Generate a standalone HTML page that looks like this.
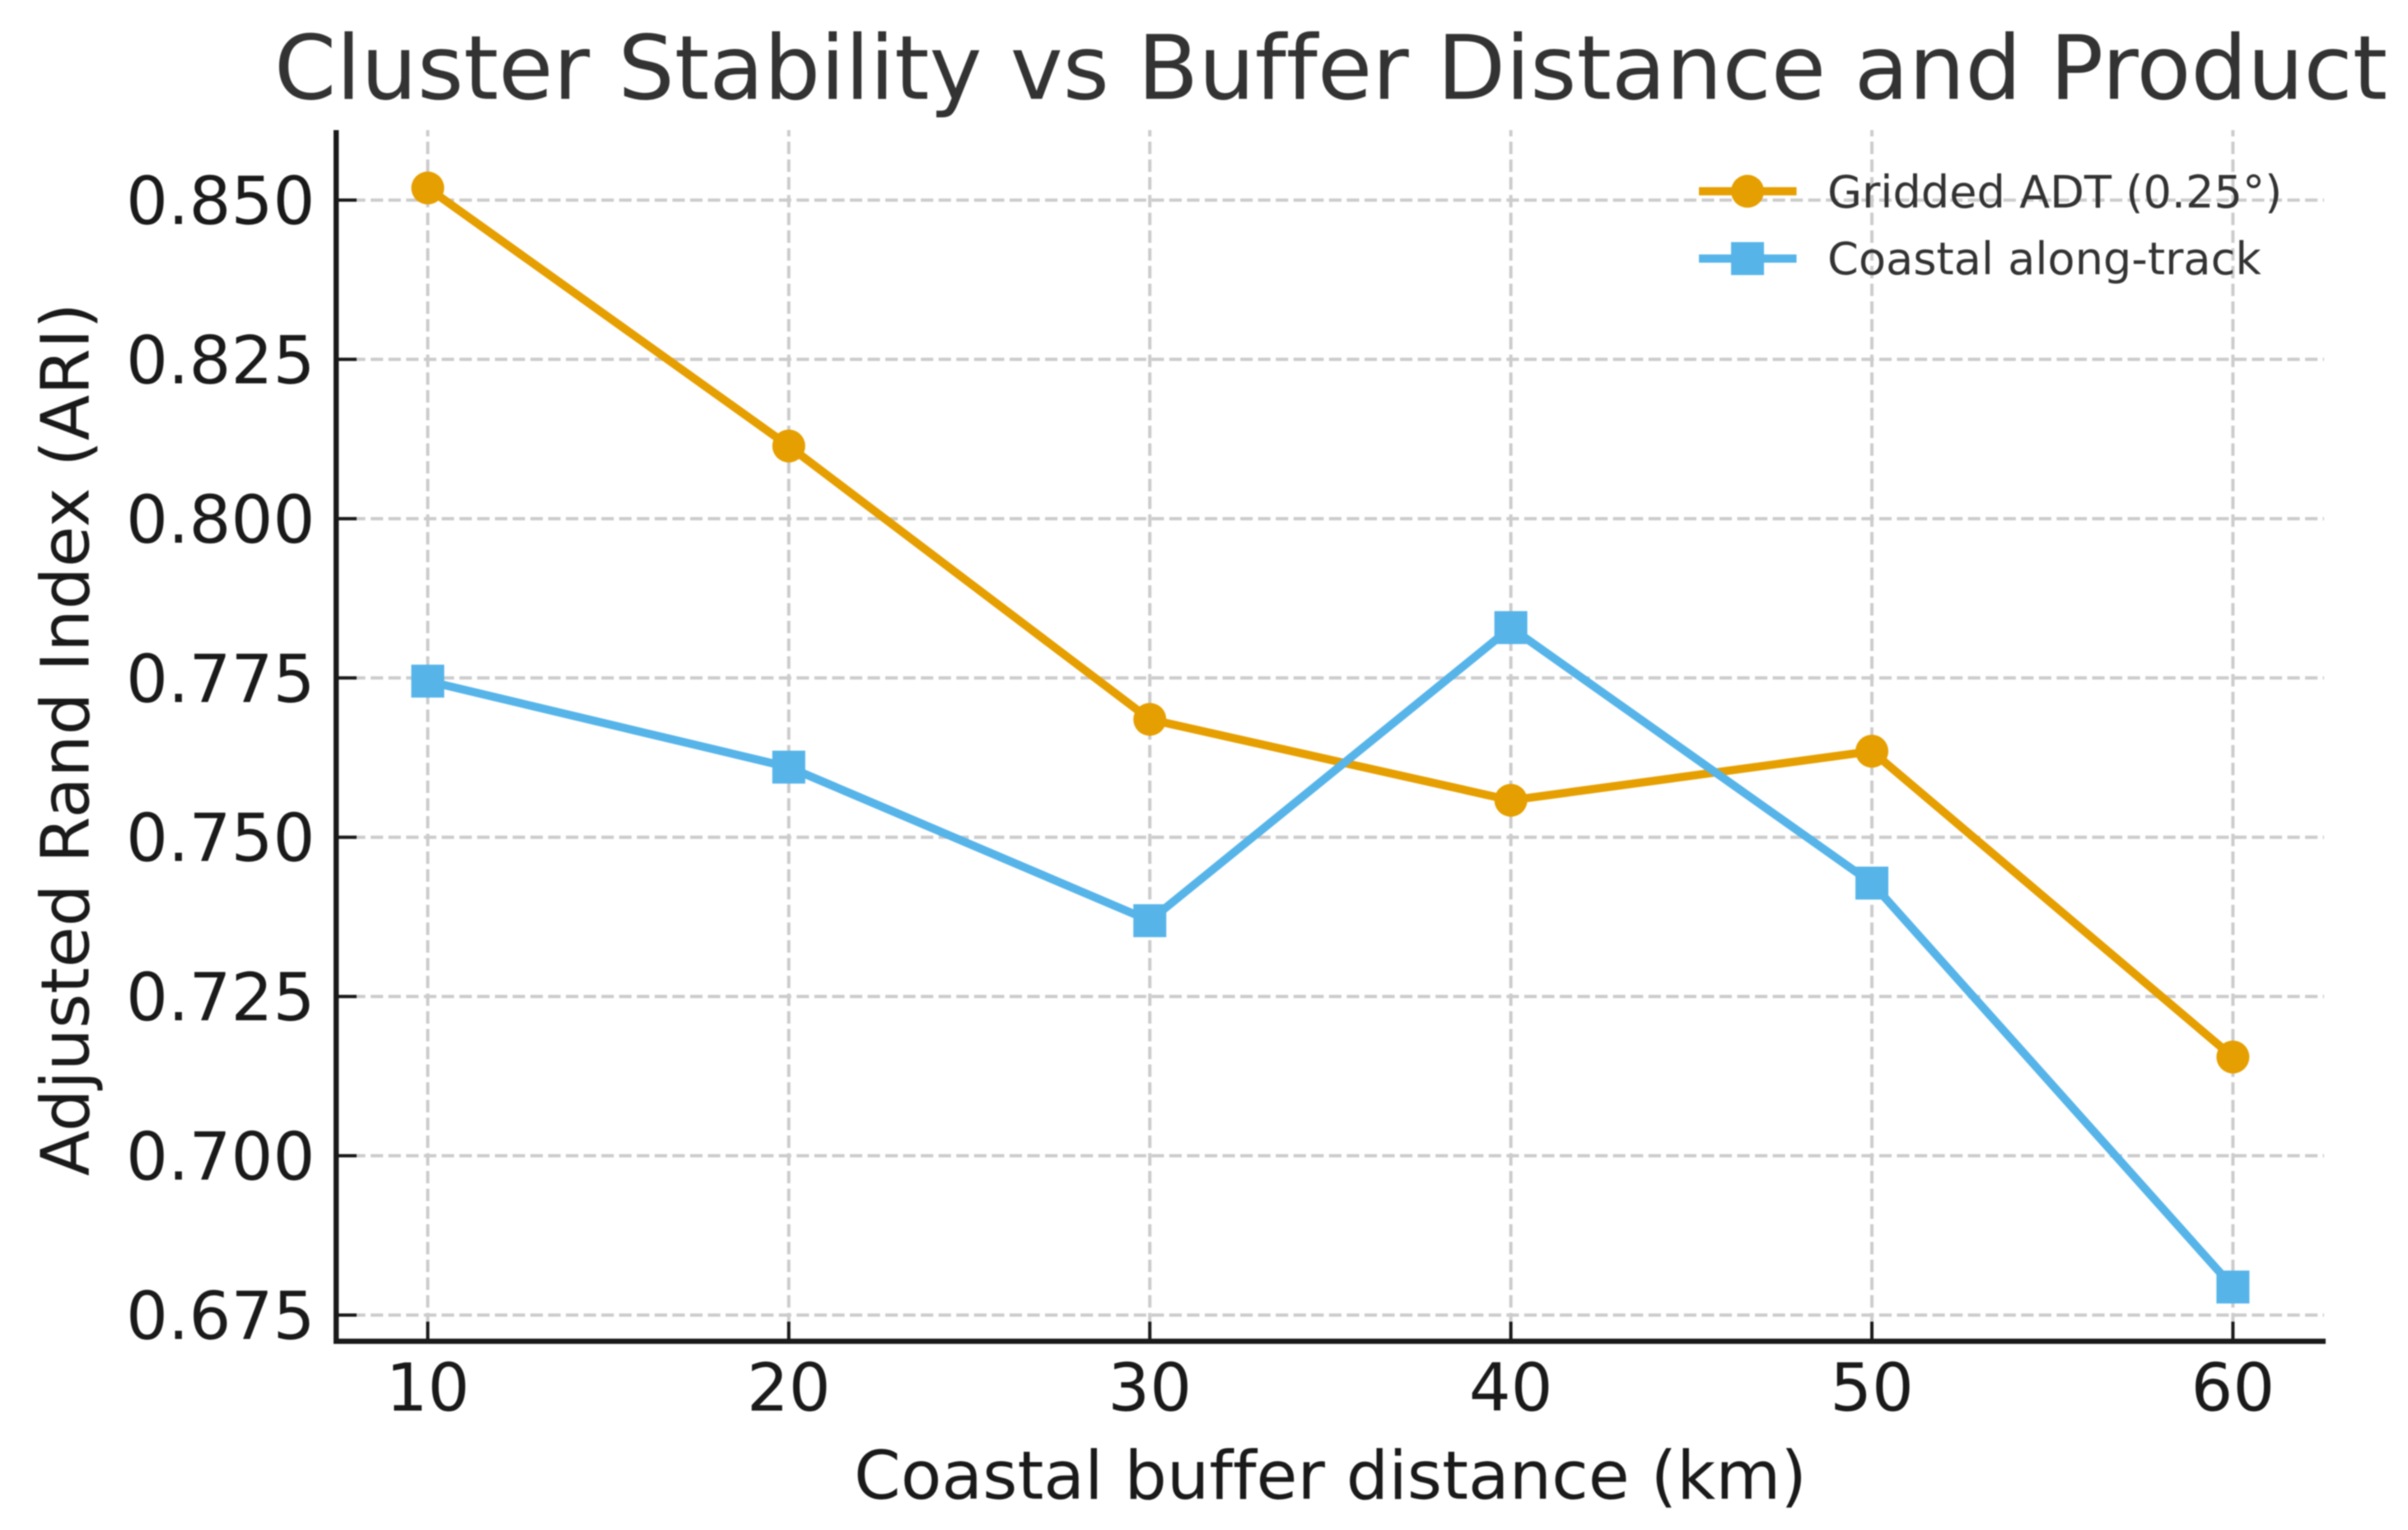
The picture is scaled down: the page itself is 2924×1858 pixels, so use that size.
<!DOCTYPE html>
<html>
<head>
<meta charset="utf-8">
<title>Cluster Stability vs Buffer Distance and Product</title>
<style>
html,body{margin:0;padding:0;background:#fff;}
svg{display:block;filter:blur(0.8px);}
text{font-family:"DejaVu Sans","Liberation Sans",sans-serif;font-variant-ligatures:none;}
</style>
</head>
<body>
<svg id="chart" xmlns="http://www.w3.org/2000/svg" width="2924" height="1858" viewBox="0 0 2924 1858">
  <rect x="0" y="0" width="2924" height="1858" fill="#ffffff"/>
  <text x="1616" y="120" font-size="108" fill="#333333" text-anchor="middle">Cluster Stability vs Buffer Distance and Product</text>
  <g id="grid"></g>
  <g id="series"></g>
  <g id="ticks"></g>
  <line x1="408.2" y1="158" x2="408.2" y2="1632" stroke="#1a1a1a" stroke-width="6.4"/>
  <line x1="405" y1="1628.8" x2="2824" y2="1628.8" stroke="#1a1a1a" stroke-width="6.4"/>
  <text x="1615.5" y="1820" font-size="81.2" fill="#1a1a1a" text-anchor="middle">Coastal buffer distance (km)</text>
  <text x="0" y="0" transform="translate(107.7 898) rotate(-90)" font-size="81" fill="#1a1a1a" text-anchor="middle">Adjusted Rand Index (ARI)</text>
  <g>
    <g>
      <line x1="2063" y1="232.3" x2="2181.5" y2="232.3" stroke="#E69F00" stroke-width="10"/>
      <circle cx="2122" cy="232.3" r="20" fill="#E69F00"/>
      <text x="2219" y="252" font-size="54.2" fill="#333333">Gridded ADT (0.25°)</text>
    </g>
    <g>
      <line x1="2063" y1="314" x2="2181.5" y2="314" stroke="#56B4E9" stroke-width="10"/>
      <rect x="2102" y="294" width="40" height="40" fill="#56B4E9"/>
      <text x="2219" y="333" font-size="54.2" fill="#333333">Coastal along-track</text>
    </g>
  </g>
</svg>
<script>
const bufferKm = [10, 20, 30, 40, 50, 60];
const griddedAdt = [0.8519, 0.8114, 0.7685, 0.7558, 0.7635, 0.7155];
const coastalAlongTrack = [0.7745, 0.7610, 0.7369, 0.7829, 0.7428, 0.6794];
const xTickLabels = ["10", "20", "30", "40", "50", "60"];
const yTickLabels = ["0.850", "0.825", "0.800", "0.775", "0.750", "0.725", "0.700", "0.675"];

const NS = "http://www.w3.org/2000/svg";
function xScale(v) { return 519.4 + (v - 10) * 43.84; }
function yScale(v) { return 243 + (0.85 - v) * 7737; }
function make(tag, attrs, parent) {
  const el = document.createElementNS(NS, tag);
  for (const k in attrs) el.setAttribute(k, attrs[k]);
  parent.appendChild(el);
  return el;
}
const gridG = document.getElementById("grid");
const seriesG = document.getElementById("series");
const ticksG = document.getElementById("ticks");
const svgRoot = document.getElementById("chart");

xTickLabels.forEach(function (label) {
  const v = Number(label);
  const x = xScale(v);
  const g = make("line", {x1: x, y1: 1631, x2: x, y2: 158, stroke: "#cccccc", "stroke-width": 4, "stroke-dasharray": "15.1 6.45"}, gridG);
  
  
  const t = make("line", {x1: x, y1: 1626, x2: x, y2: 1605, stroke: "#1a1a1a", "stroke-width": 4}, ticksG);
  
  
  const l = make("text", {x: x, y: 1713, "font-size": 80, fill: "#1a1a1a", "text-anchor": "middle"}, svgRoot);
  l.textContent = label;
  
  
});

yTickLabels.forEach(function (label) {
  const v = Number(label);
  const y = yScale(v);
  const g = make("line", {x1: 407, y1: y, x2: 2822, y2: y, stroke: "#cccccc", "stroke-width": 4, "stroke-dasharray": "15.1 6.45"}, gridG);
  
  
  const t = make("line", {x1: 411, y1: y, x2: 433, y2: y, stroke: "#1a1a1a", "stroke-width": 4}, ticksG);
  
  
  const l = make("text", {x: 382.5, y: y + 29, "font-size": 80.2, fill: "#1a1a1a", "text-anchor": "end"}, svgRoot);
  l.textContent = label;
  
  
});

function pointsFor(values) {
  return values.map(function (v, i) { return xScale(bufferKm[i]) + "," + yScale(v); }).join(" ");
}

const orangeLine = make("polyline", {points: pointsFor(griddedAdt), fill: "none", stroke: "#E69F00", "stroke-width": 10, "stroke-linejoin": "round"}, seriesG);



griddedAdt.forEach(function (v, i) {
  const m = make("circle", {cx: xScale(bufferKm[i]), cy: yScale(v), r: 20, fill: "#E69F00"}, seriesG);
  
  
});

const blueLine = make("polyline", {points: pointsFor(coastalAlongTrack), fill: "none", stroke: "#56B4E9", "stroke-width": 10, "stroke-linejoin": "round"}, seriesG);



coastalAlongTrack.forEach(function (v, i) {
  const m = make("rect", {x: xScale(bufferKm[i]) - 20, y: yScale(v) - 20, width: 40, height: 40, fill: "#56B4E9"}, seriesG);
  
  
});
</script>
</body>
</html>
